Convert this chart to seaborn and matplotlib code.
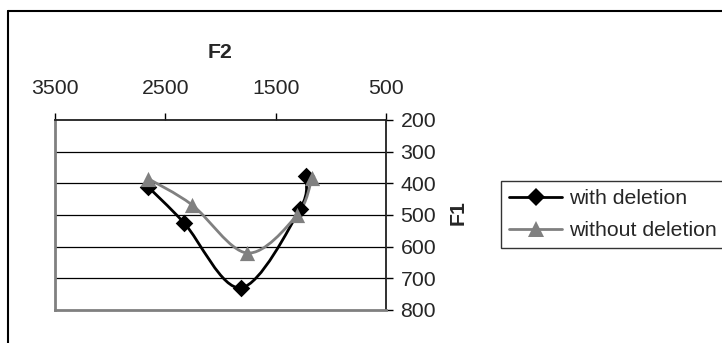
import numpy as np
import pandas as pd
import seaborn as sns
import matplotlib
matplotlib.use("Agg")
import matplotlib.pyplot as plt
from matplotlib.path import Path
from matplotlib.patches import PathPatch
from matplotlib.lines import Line2D

# ---- data ----
series_names = ["with deletion", "without deletion"]
f2_with = [2657, 2330, 1814, 1279, 1227]
f1_with = [411, 525, 730, 481, 377]
f2_without = [2657, 2258, 1759, 1306, 1170]
f1_without = [385, 468, 620, 500, 383]
x_ticks = [3500, 2500, 1500, 500]
y_ticks = [200, 300, 400, 500, 600, 700, 800]

df = pd.DataFrame({
    "F2": f2_with + f2_without,
    "F1": f1_with + f1_without,
    "series": [series_names[0]] * len(f2_with) + [series_names[1]] * len(f2_without),
})

sns.set_style("white")
plt.rcParams["font.family"] = ["Liberation Sans", "DejaVu Sans"]
FS = 15.3

W, H = 722, 343
fig = plt.figure(figsize=(W / 100, H / 100), dpi=100)
ax = fig.add_axes([55 / W, 1 - 310 / H, (386 - 55) / W, (310 - 120) / H])

colors = {series_names[0]: "#000000", series_names[1]: "#808080"}
markers = {series_names[0]: "D", series_names[1]: "^"}
sizes = {series_names[0]: 80, series_names[1]: 120}


def smooth_path(xs, ys):
    pts = np.column_stack([xs, ys]).astype(float)
    n = len(pts)
    verts = [pts[0]]
    codes = [Path.MOVETO]
    for i in range(n - 1):
        p0 = pts[i - 1] if i > 0 else pts[i]
        p1 = pts[i]
        p2 = pts[i + 1]
        p3 = pts[i + 2] if i + 2 < n else pts[i + 1]
        c1 = p1 + (p2 - p0) / 6.0
        c2 = p2 - (p3 - p1) / 6.0
        verts += [c1, c2, p2]
        codes += [Path.CURVE4] * 3
    return Path(verts, codes)


for name in series_names:
    sub = df[df["series"] == name]
    patch = PathPatch(smooth_path(sub["F2"].values, sub["F1"].values),
                      facecolor="none", edgecolor=colors[name], lw=2.0,
                      transform=ax.transData, zorder=3)
    ax.add_patch(patch)
    sns.scatterplot(data=sub, x="F2", y="F1", ax=ax, color=colors[name],
                    marker=markers[name], s=sizes[name], edgecolor=colors[name],
                    linewidth=0, zorder=4, legend=False)

ax.set_xlim(3500, 500)
ax.set_ylim(800, 200)
ax.set_xticks(x_ticks)
ax.set_yticks(y_ticks)
ax.xaxis.tick_top()
ax.yaxis.tick_right()
ax.tick_params(axis="x", direction="out", length=5, width=1, color="#000000",
               pad=11, labelsize=FS, top=True, bottom=False)
ax.tick_params(axis="y", direction="out", length=5, width=1, color="#000000",
               pad=5.5, labelsize=FS, right=True, left=False)

ax.grid(False)
for y in y_ticks[1:-1]:
    ax.axhline(y, color="black", lw=0.9, zorder=1)

for side in ["left", "bottom"]:
    ax.spines[side].set_color("#808080")
    ax.spines[side].set_linewidth(2)
for side in ["top", "right"]:
    ax.spines[side].set_color("#202020")
    ax.spines[side].set_linewidth(1.3)

ax.set_xlabel("F2", fontsize=FS, fontweight="bold")
ax.xaxis.set_label_position("top")
ax.xaxis.set_label_coords(0.5, (310 - 53) / 190)
ax.xaxis.label.set_va("center")
ax.set_ylabel("F1", fontsize=FS, fontweight="bold", rotation=90)
ax.yaxis.set_label_position("right")
ax.yaxis.set_label_coords((458 - 55) / 331, (310 - 213) / 190)
ax.yaxis.label.set_va("center")
ax.yaxis.label.set_ha("center")

handles = [
    Line2D([], [], color=colors[n], lw=2, marker=markers[n],
           markersize=9.5 if n == series_names[0] else 12, markeredgewidth=0)
    for n in series_names
]
leg = fig.legend(handles, series_names, loc="upper left",
                 bbox_to_anchor=(501 / W, 1 - 181 / H), fontsize=FS,
                 frameon=True, fancybox=False, shadow=False, borderpad=0.38,
                 handlelength=2.5, handletextpad=0.3, labelspacing=0.62,
                 borderaxespad=0)
leg.get_frame().set_edgecolor("black")
leg.get_frame().set_linewidth(1)

# chart area border (left and top edges visible)
fig.add_artist(Line2D([7.5 / W, 7.5 / W], [0, 1 - 10.5 / H], color="black", lw=1.5,
                      transform=fig.transFigure))
fig.add_artist(Line2D([7.5 / W, 1], [1 - 10.5 / H, 1 - 10.5 / H], color="black", lw=1.5,
                      transform=fig.transFigure))

fig.savefig("out.png", dpi=100)
